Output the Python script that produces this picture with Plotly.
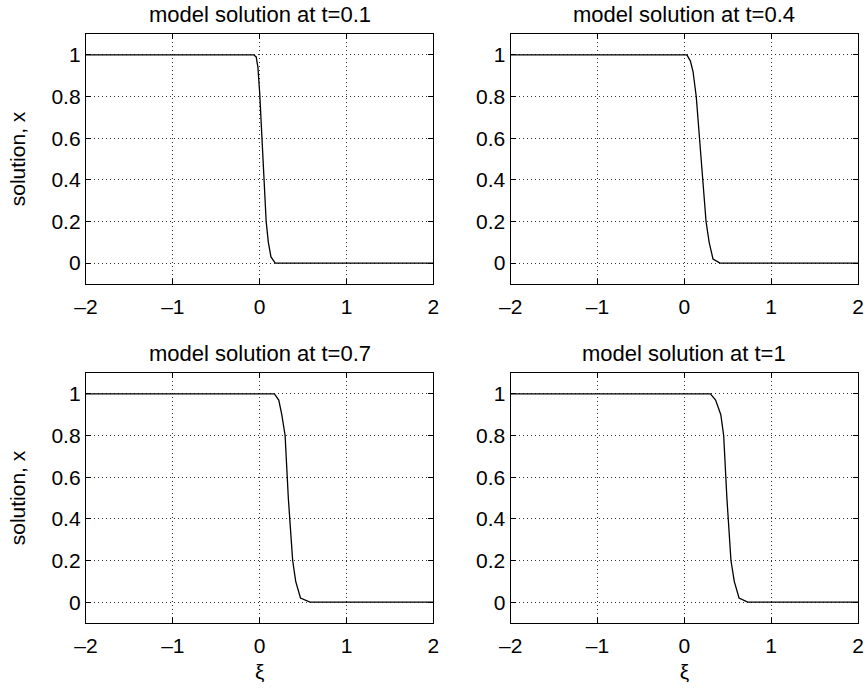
import plotly.graph_objects as go
from plotly.subplots import make_subplots

titles = ["model solution at t=0.1", "model solution at t=0.4",
          "model solution at t=0.7", "model solution at t=1"]

xi_t01 = [-2, -0.07, -0.04, -0.02, 0.0, 0.04, 0.075, 0.10, 0.13, 0.18, 2]
x_t01 = [1, 1, 0.99, 0.94, 0.82, 0.5, 0.2, 0.1, 0.03, 0, 0]

xi_t04 = [-2, 0.03, 0.07, 0.10, 0.137, 0.19, 0.25, 0.286, 0.33, 0.41, 2]
x_t04 = [1, 1, 0.97, 0.92, 0.8, 0.5, 0.2, 0.1, 0.02, 0, 0]

xi_t07 = [-2, 0.17, 0.22, 0.255, 0.293, 0.33, 0.38, 0.415, 0.47, 0.58, 2]
x_t07 = [1, 1, 0.97, 0.9, 0.8, 0.5, 0.2, 0.1, 0.02, 0, 0]

xi_t10 = [-2, 0.30, 0.36, 0.42, 0.453, 0.49, 0.537, 0.575, 0.63, 0.73, 2]
x_t10 = [1, 1, 0.97, 0.9, 0.8, 0.5, 0.2, 0.1, 0.02, 0, 0]

xtick_vals = [-2, -1, 0, 1, 2]
xtick_text = ["\u20132", "\u20131", "0", "1", "2"]
ytick_vals = [0, 0.2, 0.4, 0.6, 0.8, 1]
ytick_text = ["0", "0.2", "0.4", "0.6", "0.8", "1"]

series = [(xi_t01, x_t01), (xi_t04, x_t04), (xi_t07, x_t07), (xi_t10, x_t10)]

FONT = "Liberation Sans, Arial, Helvetica, sans-serif"
FS = 21
FS_TITLE = 22

fig = make_subplots(rows=2, cols=2)

for i, (xs, ys) in enumerate(series):
    r, c = i // 2 + 1, i % 2 + 1
    fig.add_trace(go.Scatter(x=xs, y=ys, mode="lines",
                             line=dict(color="black", width=1.3),
                             showlegend=False), row=r, col=c)

axis_common = dict(showline=True, linecolor="black", linewidth=1.3, mirror="ticks",
                   ticks="inside", ticklen=5, tickcolor="black", tickwidth=1,
                   showgrid=True, gridcolor="#333333", gridwidth=1, griddash="1px,3px",
                   zeroline=False, tickfont=dict(family=FONT, size=FS, color="black"))

for i in range(4):
    r, c = i // 2 + 1, i % 2 + 1
    fig.update_xaxes(range=[-2, 2], tickvals=xtick_vals, ticktext=xtick_text,
                     ticklabelstandoff=4, row=r, col=c, **axis_common)
    fig.update_yaxes(range=[-0.1, 1.1], tickvals=ytick_vals, ticktext=ytick_text,
                     row=r, col=c, **axis_common)

for c in (1, 2):
    fig.update_xaxes(title=dict(text="\u03be", font=dict(family=FONT, size=FS, color="black"),
                                standoff=7), row=2, col=c)
for r in (1, 2):
    fig.update_yaxes(title=dict(text="solution, x", font=dict(family=FONT, size=FS, color="black"),
                                standoff=20), row=r, col=1)

fig.update_layout(
    xaxis=dict(domain=[0, 0.4499]), xaxis2=dict(domain=[0.5501, 1]),
    xaxis3=dict(domain=[0, 0.4499]), xaxis4=dict(domain=[0.5501, 1]),
    yaxis=dict(domain=[0.5756, 1]), yaxis2=dict(domain=[0.5756, 1]),
    yaxis3=dict(domain=[0, 0.4244]), yaxis4=dict(domain=[0, 0.4244]),
)

centers = [(0.22495, 1), (0.77505, 1), (0.22495, 0.4244), (0.77505, 0.4244)]
for t, (cx, cy) in zip(titles, centers):
    fig.add_annotation(text=t, x=cx, y=cy, xref="paper", yref="paper",
                       xanchor="center", yanchor="bottom", yshift=5, showarrow=False,
                       font=dict(family=FONT, size=FS_TITLE, color="black"))

fig.update_layout(width=868, height=690, margin=dict(l=86, r=4, t=34, b=67),
                  plot_bgcolor="white", paper_bgcolor="white")

fig.write_html("out.html", config={"displayModeBar": False},
               post_script="document.body.style.margin='0';document.body.style.padding='0';")
